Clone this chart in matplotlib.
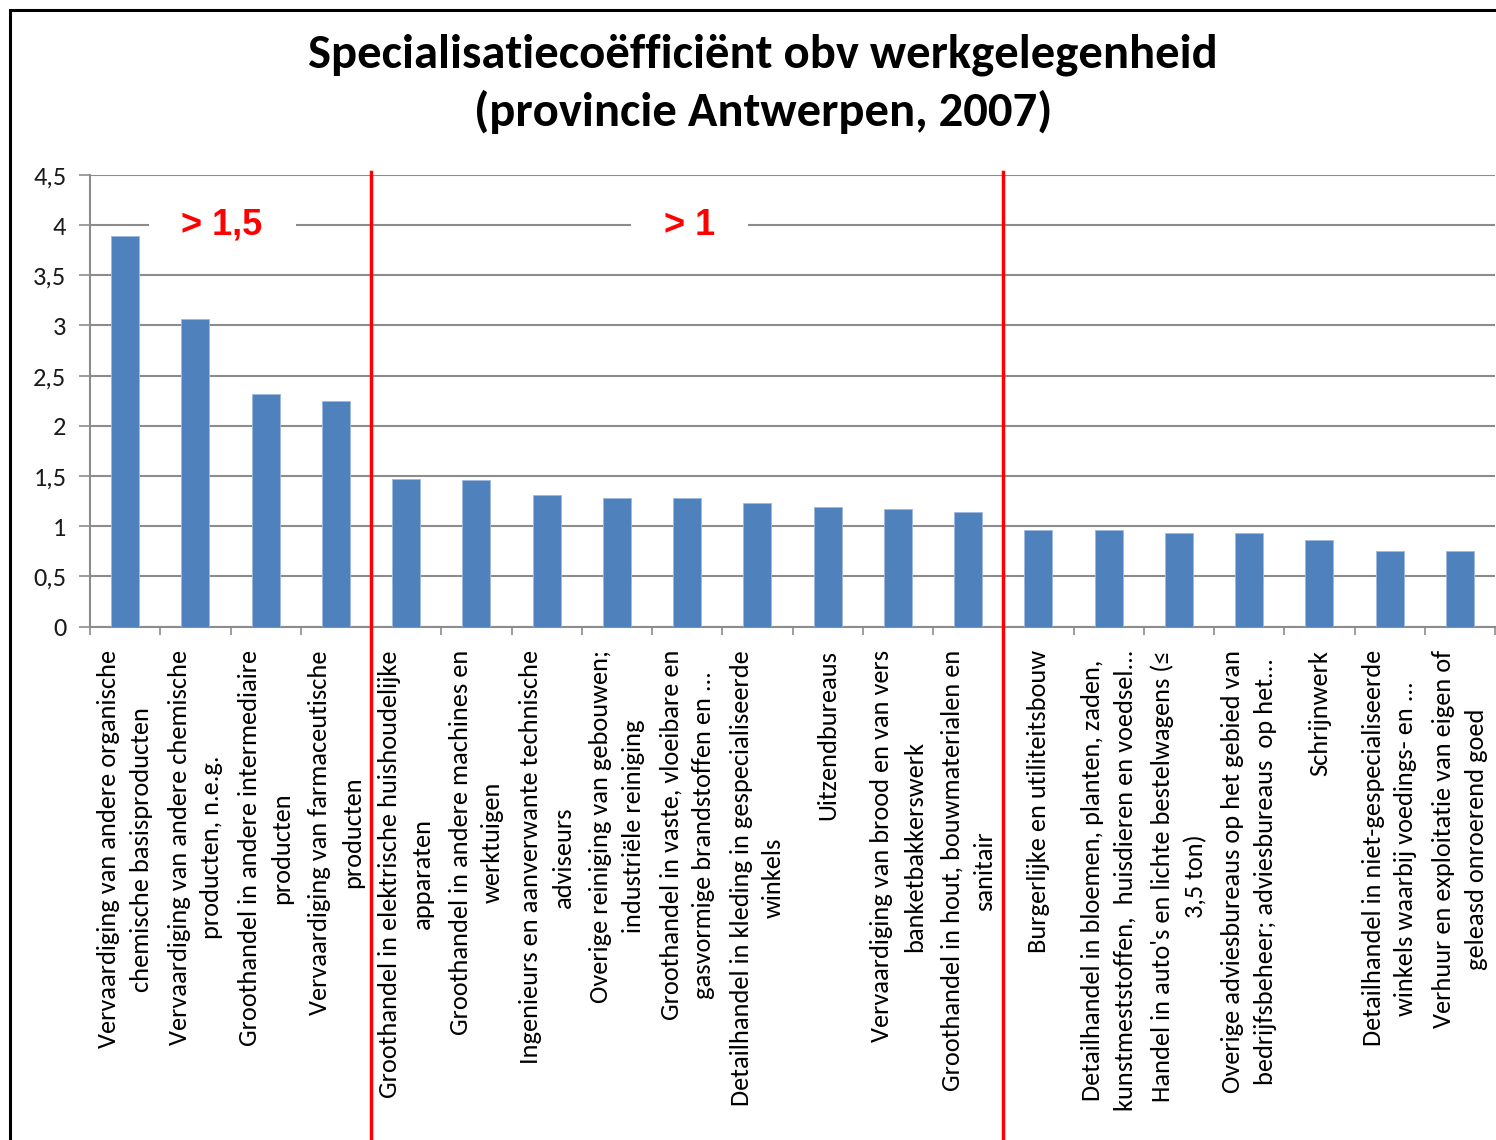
import matplotlib.pyplot as plt
from matplotlib.patches import Rectangle

plt.rcParams['font.family'] = ['Carlito', 'Lato', 'DejaVu Sans']

# Data
categories = [
    "Vervaardiging van andere organische\nchemische basisproducten",
    "Vervaardiging van andere chemische\nproducten, n.e.g.",
    "Groothandel in andere intermediaire\nproducten",
    "Vervaardiging van farmaceutische\nproducten",
    "Groothandel in elektrische huishoudelijke\napparaten",
    "Groothandel in andere machines en\nwerktuigen",
    "Ingenieurs en aanverwante technische\nadviseurs",
    "Overige reiniging van gebouwen;\nindustriële reiniging",
    "Groothandel in vaste, vloeibare en\ngasvormige brandstoffen en ...",
    "Detailhandel in kleding in gespecialiseerde\nwinkels",
    "Uitzendbureaus",
    "Vervaardiging van brood en van vers\nbanketbakkerswerk",
    "Groothandel in hout, bouwmaterialen en\nsanitair",
    "Burgerlijke en utiliteitsbouw",
    "Detailhandel in bloemen, planten, zaden,\nkunstmeststoffen,  huisdieren en voedsel...",
    "Handel in auto's en lichte bestelwagens (≤\n3,5 ton)",
    "Overige adviesbureaus op het gebied van\nbedrijfsbeheer; adviesbureaus  op het...",
    "Schrijnwerk",
    "Detailhandel in niet-gespecialiseerde\nwinkels waarbij voedings- en ...",
    "Verhuur en exploitatie van eigen of\ngeleasd onroerend goed",
]
values = [3.89, 3.06, 2.32, 2.25, 1.47, 1.46, 1.31, 1.28, 1.28, 1.23,
          1.19, 1.17, 1.14, 0.96, 0.96, 0.93, 0.93, 0.86, 0.75, 0.75]

# groups: first 4 bars > 1,5 ; next 9 bars > 1 ; rest below 1
group_sizes = [4, 9]
group_labels = ["> 1,5", "> 1"]
group_label_x = [1.38, 8.04]

yticks = [0, 0.5, 1, 1.5, 2, 2.5, 3, 3.5, 4, 4.5]
ytick_labels = ["0", "0,5", "1", "1,5", "2", "2,5", "3", "3,5", "4", "4,5"]

W, H = 1496, 1140
fig = plt.figure(figsize=(W / 100, H / 100), dpi=100)
ax = fig.add_axes([90 / W, 1 - 626.5 / H, 1405 / W, (626.5 - 175) / H])

x = list(range(len(values)))
ax.bar(x, values, width=0.4, color='#4F81BD', edgecolor='#9DB9DC', linewidth=0.6, zorder=3)

ax.set_xlim(-0.5, len(values) - 0.5)
ax.set_ylim(0, 4.5)
ax.set_yticks(yticks)
ax.set_yticklabels(ytick_labels, fontsize=19, color='#1a1a1a')
ax.yaxis.grid(True, color='#8c8c8c', linewidth=1.5, zorder=0)

ax.set_xticks(x)
ax.set_xticklabels(categories, rotation=90, fontsize=19, va='top', ha='center',
                   multialignment='center', linespacing=1.5)
ax.set_xticks([i - 0.5 for i in range(len(values) + 1)], minor=True)
ax.tick_params(axis='x', which='major', length=0, pad=17)
ax.tick_params(axis='x', which='minor', length=6, width=1.2, color='#8c8c8c')
ax.tick_params(axis='y', length=8, width=1.2, color='#8c8c8c', pad=9)

for s in ['top', 'right']:
    ax.spines[s].set_visible(False)
for s in ['left', 'bottom']:
    ax.spines[s].set_color('#8c8c8c')
    ax.spines[s].set_linewidth(1.5)

# red separators between groups
pos = -0.5
for n in group_sizes:
    pos += n
    ax.plot([pos, pos], [-5.3, 4.53], color='#FF0000', linewidth=2.5,
            clip_on=False, zorder=4)

for lx, lab in zip(group_label_x, group_labels):
    ax.text(lx, 4.0, "   " + lab + "   ", color='#FF0000', fontsize=26,
            fontweight='bold', family=['Liberation Sans', 'DejaVu Sans'],
            ha='center', va='center', zorder=5,
            bbox=dict(facecolor='white', edgecolor='none', pad=2))

fig.text(0.51, 1 - 84 / H, "Specialisatiecoëfficiënt obv werkgelegenheid\n(provincie Antwerpen, 2007)",
         ha='center', va='center', fontsize=35, fontweight='bold', linespacing=1.38)

# outer chart frame
fig.patches.append(Rectangle((10 / W, -0.1), 1.2, 1 - 10 / H + 0.1,
                             transform=fig.transFigure, fill=False,
                             edgecolor='black', linewidth=2.2))

fig.savefig('out.png', dpi=100)
